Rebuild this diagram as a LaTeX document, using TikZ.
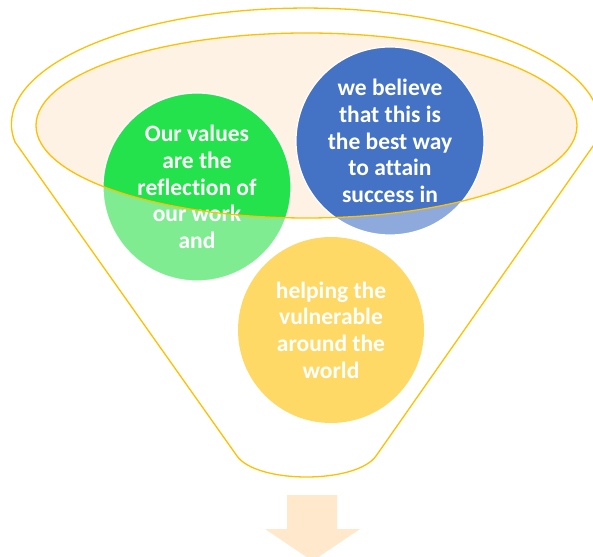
\documentclass[tikz,border=0pt]{standalone}
\usepackage{fontspec}
\setmainfont{Carlito}[Ligatures=NoCommon]
\usepackage{tikz}
\usetikzlibrary{positioning}

\definecolor{rimgold}{HTML}{FFC000}
\definecolor{rimfill}{HTML}{FEF2E4}
\definecolor{valgreen}{HTML}{24E24C}
\definecolor{valgreenlt}{HTML}{7FEC92}
\definecolor{belblue}{HTML}{4472C4}
\definecolor{belbluelt}{HTML}{8EA9DB}
\definecolor{helpgold}{HTML}{FFD966}
\definecolor{arrowfill}{HTML}{FFE8CC}

\begin{document}
\begin{tikzpicture}[x=1pt,y=1pt,line width=1.3pt]

	\tikzset{bubble/.style={circle, minimum size=188pt, inner sep=0pt,
			draw=white, line width=1.2pt, text=white, align=center,
			font=\bfseries\fontsize{23.5}{26.7}\selectfont},
		rim/.style={draw=rimgold}}

	\useasboundingbox (0,0) rectangle (593,556);

	% funnel body
	\fill[rimfill] (306.5,430.5) ellipse [x radius=270.5, y radius=92.5];
	\draw[rim] (15,414)
	arc[start angle=188.9, end angle=-8.9, x radius=294, y radius=116]
	-- (376,100) .. controls (356,72) and (257,72) .. (237,100)
	-- cycle;

	% faded discs
	\fill[valgreenlt] (197,369) circle[radius=94];
	\fill[belbluelt] (390,415) circle[radius=94];
	\fill[helpgold] (331,226) circle[radius=93];

	% part inside the rim
	\begin{scope}
		\clip (306.5,430.5) ellipse [x radius=270.5, y radius=92.5];
		\fill[valgreen] (197,369) circle[radius=94];
		\fill[belblue] (390,415) circle[radius=94];
	\end{scope}

	\node[bubble] (V) at (197,369) {Our values\\are the\\reflection of\\our work\\and};
	\node[bubble] (B) at (390,415) {we believe\\that this is\\the best way\\to attain\\success in};
	\node[bubble, draw=none, minimum size=186pt] (H) at (331,226) {helping the\\vulnerable\\around the\\world};

	\draw[rim] (306.5,430.5) ellipse [x radius=270.5, y radius=92.5];

	% output arrow
	\fill[arrowfill] (287,61) -- (337,61) -- (337,27) -- (360,27)
	-- (312.5,-5) -- (265,27) -- (287,27) -- cycle;

\end{tikzpicture}
\end{document}
